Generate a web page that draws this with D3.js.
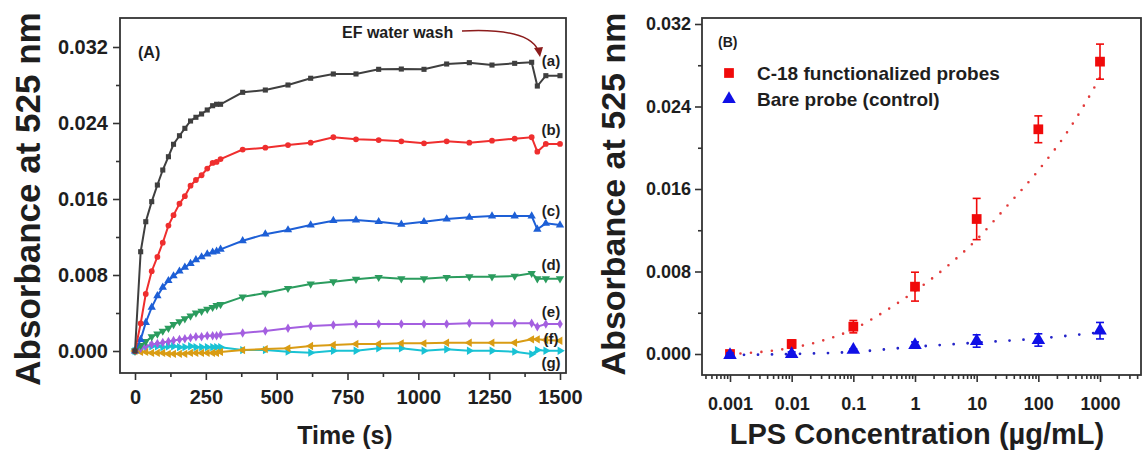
<!DOCTYPE html>
<html>
<head>
<meta charset="utf-8">
<script src="https://cdn.jsdelivr.net/npm/d3@7"></script>
<style>
body { margin: 0; background: #fff; }
svg text { font-family: "Liberation Sans", Arial, sans-serif; font-weight: bold; fill: #1e1e1e; }
</style>
</head>
<body>
<div id="chart"></div>
<script>
var width = 1147,
    height = 451;

// ---- panel A : kinetics ----
var timeSec = [0,20,38,59,79,98,118,136,157,176,196,215,235,255,274,288,302,
               380,460,540,620,700,780,860,940,1020,1100,1180,1260,1340,1400,1420,1450,1500];
var absA = [0,.01045,.01361,.01572,.01747,.01905,.02045,.02176,.02266,.02344,.02421,.0246,.02495,.02537,.02582,.02597,.02597,
            .02723,.02747,.0280,.02871,.02916,.02916,.02965,.02968,.02965,.03021,.03035,.0301,.03028,.03039,.02789,.02898,.02898];
var absB = [0,.0029,.0060,.0084,.0099,.0114,.0132,.0143,.0155,.0163,.0174,.0180,.0185,.0192,.0198,.0199,.0202,
            .0212,.0214,.02168,.02193,.0225,.02228,.02221,.02207,.02186,.02207,.02193,.02214,.02235,.0225,.02098,.02179,.02179];
var absC = [0,.0012,.0030,.0046,.0058,.0067,.0074,.0079,.0084,.0088,.0092,.0096,.0099,.0102,.0104,.0105,.0107,
            .0116,.0123,.01274,.01326,.01372,.01379,.01361,.01334,.01361,.01389,.01407,.01421,.01421,.01421,.01281,.01344,.01326];
var absD = [0,.0006,.0010,.0015,.0018,.0021,.0024,.0028,.0031,.0034,.0037,.0040,.0042,.0044,.0046,.0048,.0049,
            .0057,.0061,.0066,.00705,.00729,.00755,.00776,.00761,.00761,.00776,.00782,.00782,.00789,.00818,.00761,.00761,.00761];
var absE = [0,.0003,.0005,.0007,.0008,.0009,.0010,.0011,.0012,.0013,.0014,.0015,.0015,.0016,.0016,.0016,.0017,
            .0019,.0021,.00239,.00263,.00274,.00284,.00284,.00284,.00284,.00284,.00292,.00292,.00292,.00292,.00256,.00284,.00284];
var absF = [0,-.0001,-.0001,-.0002,-.0002,-.0002,-.0003,-.0003,-.0003,-.0003,-.0002,-.0002,-.0002,-.0002,-.0002,-.0002,-.0001,
            .0001,.0002,.00028,.00053,.00063,.00074,.00074,.00081,.00081,.00087,.00087,.00087,.00087,.00123,.00123,.00116,.00108];
var absG = [0,.0004,.0005,.0005,.0005,.0004,.0005,.0005,.0004,.0004,.0005,.0004,.0004,.0004,.0004,.0004,.0004,
            .0001,.0001,-.00007,-.00018,.00003,.00003,.00028,.00028,.00003,.00018,.00003,.00003,-.00007,-.00032,.0001,.00003,.00003];
var curveNames = ["(a)","(b)","(c)","(d)","(e)","(f)","(g)"];
var curveColors = ["#3f3f3f","#ef2e2e","#1d5fd6","#2b9c5e","#a45fe0","#d99c14","#19c2d4"];
var timeTicks = [0,250,500,750,1000,1250,1500];
var absTicks = [0,0.008,0.016,0.024,0.032];

// ---- panel B : calibration ----
var concentration = [0.001,0.01,0.1,1,10,100,1000];
var concLabels = ["0.001","0.01","0.1","1","10","100","1000"];
var c18Abs = [0.0000,0.00097,0.00265,0.00653,0.01309,0.02179,0.02835];
var c18Err = [0.0002,0.0004,0.0006,0.0014,0.0020,0.0013,0.0017];
var bareAbs = [-0.0001,0.0000,0.0004,0.00087,0.00126,0.00136,0.00226];
var bareErr = [0.0002,0.0002,0.0001,0.0003,0.0006,0.0006,0.0008];
var c18FitLogC = [-3,-2.5,-2,-1.5,-1,-0.5,0,0.5,1,1.5,2,2.5,3];
var c18Fit = [0.0000,0.0002,0.0006,0.0013,0.0024,0.0041,0.0061,0.0084,0.0111,0.0144,0.0178,0.0218,0.0268];
var bareFitLogC = [-3,-2,-1,0,1,2,3];
var bareFit = [-0.0001,0.0000,0.0002,0.0007,0.0011,0.0015,0.0021];

var svg = d3.select("#chart")
  .append("svg")
  .attr("width", width)
  .attr("height", height);

var frameColor = "#333";

// ================= panel A =================
var boxA = {left: 120, right: 566, top: 18, bottom: 373};
var xA = d3.scaleLinear().domain([0, 1500]).range([135, 560]);
var yA = d3.scaleLinear().domain([0, 0.032]).range([351, 47]);

function styleAxis(g, fs) {
  g.select(".domain").remove();
  g.selectAll("line").attr("stroke", frameColor).attr("stroke-width", 1.6);
  g.selectAll("text").style("font-size", fs + "px").attr("fill", "#1e1e1e");
}

// minor + major ticks
svg.append("g").attr("transform", "translate(0," + boxA.bottom + ")")
  .call(d3.axisBottom(xA).tickValues(d3.range(125, 1500, 250)).tickSize(4).tickFormat(""))
  .call(styleAxis, 20);
svg.append("g").attr("transform", "translate(0," + boxA.bottom + ")")
  .call(d3.axisBottom(xA).tickValues(timeTicks).tickSize(7).tickPadding(10).tickFormat(d3.format("d")))
  .call(styleAxis, 20);
svg.append("g").attr("transform", "translate(" + boxA.left + ",0)")
  .call(d3.axisLeft(yA).tickValues([0.004,0.012,0.020,0.028]).tickSize(4).tickFormat(""))
  .call(styleAxis, 20);
svg.append("g").attr("transform", "translate(" + boxA.left + ",0)")
  .call(d3.axisLeft(yA).tickValues(absTicks).tickSize(7).tickPadding(5).tickFormat(d3.format(".3f")))
  .call(styleAxis, 20);

svg.append("rect")
  .attr("x", boxA.left).attr("y", boxA.top)
  .attr("width", boxA.right - boxA.left).attr("height", boxA.bottom - boxA.top)
  .attr("fill", "none").attr("stroke", frameColor).attr("stroke-width", 1.8);

var symbolsA = [
  {type: d3.symbolSquare, size: 26, rot: 0},
  {type: d3.symbolCircle, size: 26, rot: 0},
  {type: d3.symbolTriangle, size: 30, rot: 0},
  {type: d3.symbolTriangle, size: 30, rot: 180},
  {type: d3.symbolDiamond, size: 26, rot: 0},
  {type: d3.symbolTriangle, size: 30, rot: -90},
  {type: d3.symbolTriangle, size: 30, rot: 90}
];
var labelOffset = [-15, -14, -14, -14, -12, -2, 12];

var kinetics = [absA, absB, absC, absD, absE, absF, absG];
var lineA = d3.line().x(function(d) { return xA(d[0]); }).y(function(d) { return yA(d[1]); });

// draw bottom curves first so (a) lies on top
for (var i = kinetics.length - 1; i >= 0; i--) {
  var pts = timeSec.map(function(t, k) { return [t, kinetics[i][k]]; });
  var col = curveColors[i];
  svg.append("path").datum(pts)
    .attr("d", lineA)
    .attr("fill", "none").attr("stroke", col).attr("stroke-width", 2);
  svg.append("g").selectAll("path")
    .data(pts).enter().append("path")
    .attr("transform", (function(rot) { return function(d) {
      return "translate(" + xA(d[0]) + "," + yA(d[1]) + ") rotate(" + rot + ")"; }; })(symbolsA[i].rot))
    .attr("d", d3.symbol().type(symbolsA[i].type).size(symbolsA[i].size))
    .attr("fill", col);
  svg.append("text")
    .attr("x", 551).attr("y", yA(kinetics[i][kinetics[i].length - 1]) + labelOffset[i])
    .attr("dy", "0.35em").attr("text-anchor", "middle")
    .style("font-size", "15px").attr("fill", "#2a2a2a")
    .text(curveNames[i]);
}

svg.append("text").attr("x", 138).attr("y", 58).style("font-size", "16px").text("(A)");

// EF water wash annotation
svg.append("text").attr("x", 342).attr("y", 38).style("font-size", "16px").text("EF water wash");
svg.append("path")
  .attr("d", "M462,31 C500,29 530,33 538,50")
  .attr("fill", "none").attr("stroke", "#8c1c1c").attr("stroke-width", 1.5);
svg.append("path")
  .attr("d", "M534,48 L543,47 L540,57 Z")
  .attr("fill", "#8c1c1c");

svg.append("text")
  .attr("x", 345).attr("y", 444)
  .attr("text-anchor", "middle").style("font-size", "25px")
  .text("Time (s)");
svg.append("text")
  .attr("transform", "translate(40,199) rotate(-90)")
  .attr("text-anchor", "middle").style("font-size", "35px")
  .text("Absorbance at 525 nm");

// ================= panel B =================
var boxB = {left: 702, right: 1141, top: 18, bottom: 375};
var xB = d3.scaleLog().domain([0.001, 1000]).range([730, 1100]);
var yB = d3.scaleLinear().domain([0, 0.032]).range([354, 24]);

var minorLog = [];
for (var e = -4; e <= 3; e++) {
  for (var m = 2; m <= 9; m++) {
    var v = m * Math.pow(10, e);
    if (xB(v) > boxB.left && xB(v) < boxB.right) minorLog.push(v);
  }
}
svg.append("g").attr("transform", "translate(0," + boxB.bottom + ")")
  .call(d3.axisBottom(xB).tickValues(minorLog).tickSize(4).tickFormat(""))
  .call(styleAxis, 18);
svg.append("g").attr("transform", "translate(0," + boxB.bottom + ")")
  .call(d3.axisBottom(xB).tickValues(concentration).tickSize(7).tickPadding(15)
    .tickFormat(function(d, i) { return concLabels[i]; }))
  .call(styleAxis, 18);
svg.append("g").attr("transform", "translate(" + boxB.left + ",0)")
  .call(d3.axisLeft(yB).tickValues([0.004,0.012,0.020,0.028]).tickSize(4).tickFormat(""))
  .call(styleAxis, 18);
svg.append("g").attr("transform", "translate(" + boxB.left + ",0)")
  .call(d3.axisLeft(yB).tickValues(absTicks).tickSize(7).tickPadding(4).tickFormat(d3.format(".3f")))
  .call(styleAxis, 18);

svg.append("rect")
  .attr("x", boxB.left).attr("y", boxB.top)
  .attr("width", boxB.right - boxB.left).attr("height", boxB.bottom - boxB.top)
  .attr("fill", "none").attr("stroke", frameColor).attr("stroke-width", 1.8);

var fitLine = d3.line().curve(d3.curveMonotoneX)
  .x(function(d) { return xB(Math.pow(10, d[0])); }).y(function(d) { return yB(d[1]); });

svg.append("path")
  .datum(c18FitLogC.map(function(l, k) { return [l, c18Fit[k]]; }))
  .attr("d", fitLine).attr("fill", "none")
  .attr("stroke", "#e23a3a").attr("stroke-width", 2.6)
  .attr("stroke-linecap", "round").attr("stroke-dasharray", "0,10.5");
svg.append("path")
  .datum(bareFitLogC.map(function(l, k) { return [l, bareFit[k]]; }))
  .attr("d", fitLine).attr("fill", "none")
  .attr("stroke", "#2424c8").attr("stroke-width", 2.8)
  .attr("stroke-linecap", "round").attr("stroke-dasharray", "0,14");

function drawSeries(vals, errs, col, sym, size) {
  var g = svg.append("g");
  var pts = concentration.map(function(c, k) { return {c: c, v: vals[k], e: errs[k]}; });
  g.selectAll("line.err").data(pts).enter().append("line")
    .attr("x1", function(d) { return xB(d.c); }).attr("x2", function(d) { return xB(d.c); })
    .attr("y1", function(d) { return yB(d.v - d.e); }).attr("y2", function(d) { return yB(d.v + d.e); })
    .attr("stroke", col).attr("stroke-width", 1.6);
  [-1, 1].forEach(function(s) {
    g.selectAll(null).data(pts).enter().append("line")
      .attr("x1", function(d) { return xB(d.c) - 4; }).attr("x2", function(d) { return xB(d.c) + 4; })
      .attr("y1", function(d) { return yB(d.v + s * d.e); }).attr("y2", function(d) { return yB(d.v + s * d.e); })
      .attr("stroke", col).attr("stroke-width", 1.6);
  });
  g.selectAll("path").data(pts).enter().append("path")
    .attr("transform", function(d) { return "translate(" + xB(d.c) + "," + yB(d.v) + ")"; })
    .attr("d", d3.symbol().type(sym).size(size))
    .attr("fill", col);
}
drawSeries(c18Abs, c18Err, "#f00a0a", d3.symbolSquare, 95);
drawSeries(bareAbs, bareErr, "#1010e6", d3.symbolTriangle, 80);

svg.append("text").attr("x", 718).attr("y", 47).style("font-size", "14px").text("(B)");

// legend
svg.append("path").attr("transform", "translate(729,73)")
  .attr("d", d3.symbol().type(d3.symbolSquare).size(95)).attr("fill", "#f00a0a");
svg.append("path").attr("transform", "translate(729,99)")
  .attr("d", d3.symbol().type(d3.symbolTriangle).size(80)).attr("fill", "#1010e6");
svg.append("text").attr("x", 757).attr("y", 73).attr("dy", "0.35em")
  .style("font-size", "19px").text("C-18 functionalized probes");
svg.append("text").attr("x", 757).attr("y", 99).attr("dy", "0.35em")
  .style("font-size", "19px").text("Bare probe (control)");

svg.append("text")
  .attr("x", 917).attr("y", 444)
  .attr("text-anchor", "middle").style("font-size", "29px")
  .text("LPS Concentration (\u00b5g/mL)");
svg.append("text")
  .attr("transform", "translate(625,194) rotate(-90)")
  .attr("text-anchor", "middle").style("font-size", "34px")
  .text("Absorbance at 525 nm");
</script>
</body>
</html>
